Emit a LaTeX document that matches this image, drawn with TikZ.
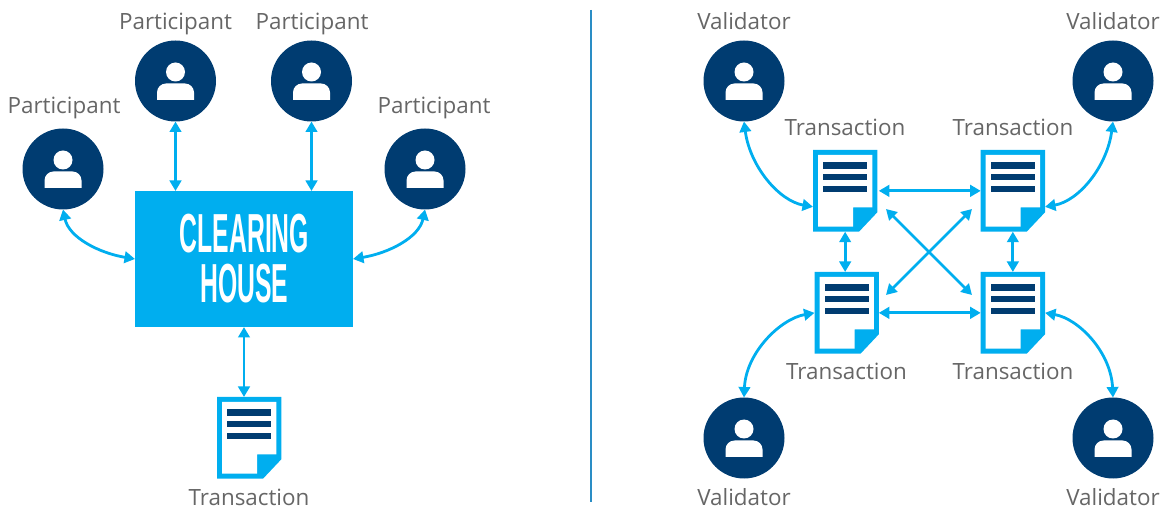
\documentclass[tikz,border=0pt]{standalone}
\usepackage{fontspec}
\setmainfont{Open Sans}
\newfontfamily\boxfont{Liberation Sans}
\usetikzlibrary{arrows.meta}
\definecolor{navy}{HTML}{003C71}
\definecolor{cyanb}{HTML}{00AEEF}
\definecolor{labelgrey}{HTML}{666666}
\definecolor{divider}{HTML}{2A8DC5}
\tikzset{
  x=1pt,y=-1pt,
  lbl/.style={text=labelgrey,font=\fontsize{22.4}{26}\selectfont,inner sep=0pt,anchor=base},
  personnode/.style={circle,fill=navy,minimum size=81pt,inner sep=0pt,outer sep=0pt},
  docnode/.style={rectangle,minimum width=64.3pt,minimum height=81.7pt,inner sep=0pt,outer sep=0pt,anchor=north west},
  conn/.style={draw=cyanb,line width=2.8pt,{Triangle[length=10.5pt,width=11.5pt]}-{Triangle[length=10.5pt,width=11.5pt]}},
  personicon/.pic={
    \fill[white] (0,-9) circle (9.5);
    \fill[white] (-18.5,19) -- (-18.5,11.5) arc[start angle=180,end angle=270,radius=9] -- (9.5,2.5) arc[start angle=270,end angle=360,radius=9] -- (18.5,19) -- cycle;
  },
  docicon/.pic={
    \fill[cyanb] (0,0) -- (64.3,0) -- (64.3,62.3) -- (46,81.7) -- (0,81.7) -- cycle;
    \fill[white] (5,5) -- (59.3,5) -- (59.3,57.3) -- (40,57.3) -- (40,76.7) -- (5,76.7) -- cycle;
    \fill[navy] (10,12.3) rectangle (54.3,19);
    \fill[navy] (10,24) rectangle (54.3,30.3);
    \fill[navy] (10,35.7) rectangle (54.3,42);
  },
}
\begin{document}
\begin{tikzpicture}
\useasboundingbox (0,0) rectangle (1165,510);
% persons
\foreach \n/\cx/\cy in {p1/63/169,p2/175.5/81,p3/311.5/81,p4/425/169,v1/744/81,v2/1113/81,v3/744/438,v4/1113/438}{
  \node[personnode] (\n) at (\cx,\cy) {};
  \pic at (\n.center) {personicon};
}
% documents
\foreach \n/\cx/\cy in {d0/217/397,d1/813/150,d2/980.7/150,d3/814.5/272,d4/980.7/272}{
  \node[docnode] (\n) at (\cx,\cy) {};
  \pic at (\n.north west) {docicon};
}
% clearing house
\node[rectangle,fill=cyanb,minimum width=218pt,minimum height=136pt,inner sep=0pt,outer sep=0pt,anchor=north west] (ch) at (135,191) {};
\node[text=white,inner sep=0pt] (ch1) at (244.5,233.5) {\scalebox{0.45}[1]{\boxfont\bfseries\fontsize{55}{55}\selectfont CLEARING}};
\node[text=white,inner sep=0pt] (ch2) at (244.5,284) {\scalebox{0.45}[1]{\boxfont\bfseries\fontsize{55}{55}\selectfont HOUSE}};
% labels
\node[lbl] (l1) at (64,113.7) {Participant};
\node[lbl] (l2) at (175.5,29.7) {Participant};
\node[lbl] (l3) at (312,29.7) {Participant};
\node[lbl] (l4) at (434,113.7) {Participant};
\node[lbl] (l5) at (249,505) {Transaction};
\node[lbl] (l6) at (845,136) {Transaction};
\node[lbl] (l7) at (1013,136) {Transaction};
\node[lbl] (l8) at (846.5,380) {Transaction};
\node[lbl] (l9) at (1013,380) {Transaction};
\node[lbl] (l10) at (744,29.7) {Validator};
\node[lbl] (l11) at (1113,29.7) {Validator};
\node[lbl] (l12) at (744,505) {Validator};
\node[lbl] (l13) at (1113,505) {Validator};
% divider
\coordinate (divtop) at (591,10);
\coordinate (divbot) at (591,502);
\draw[divider,line width=1.1pt] (divtop) -- (divbot);
% left connectors
\draw[conn] (p2.south) -- (p2.south |- ch.north);
\draw[conn] (p3.south) -- (p3.south |- ch.north);
\draw[conn] (ch.south) -- (ch.south |- d0.north);
\draw[conn] (p1.south) .. controls +(6,28) and +(-36,-6) .. (ch.west);
\draw[conn] (p4.south) .. controls +(-6,28) and +(36,-6) .. (ch.east);
% right connectors
\draw[conn] (v1.south) .. controls +(6,45) and +(-34,-6) .. ([shift={(0,16)}]d1.west);
\draw[conn] (v2.south) .. controls +(-6,45) and +(34,-6) .. ([shift={(0,16)}]d2.east);
\draw[conn] (v3.north) .. controls +(2,-45) and +(-34,6) .. (d3.west);
\draw[conn] (v4.north) .. controls +(-2,-45) and +(34,6) .. (d4.east);
\draw[conn] (d1.east -| d3.east) -- (d2.west);
\draw[conn] (d3.east) -- (d4.west);
\draw[conn] (d1.south) -- (d1.south |- d3.north);
\draw[conn] (d2.south) -- (d4.north);
\coordinate (xa) at (886,209);
\coordinate (xb) at (972,295);
\coordinate (xc) at (972,209);
\coordinate (xd) at (886,295);
\draw[conn] (xa) -- (xb);
\draw[conn] (xc) -- (xd);
\end{tikzpicture}
\end{document}
